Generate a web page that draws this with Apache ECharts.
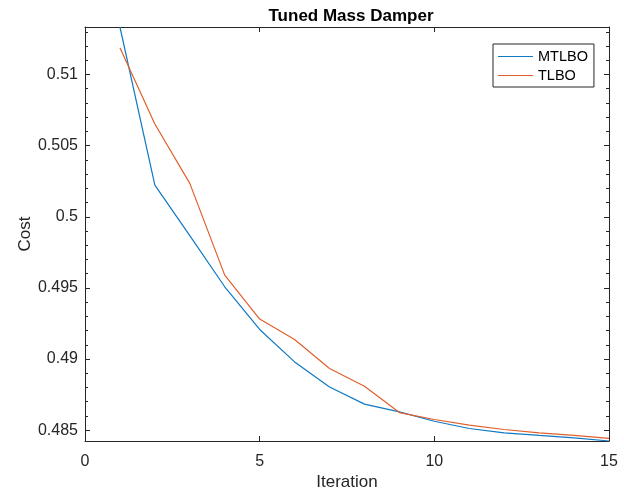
<!DOCTYPE html>
<html>
<head>
<meta charset="utf-8">
<script src="https://cdn.jsdelivr.net/npm/echarts@6/dist/echarts.min.js"></script>
<style>
  html, body { margin: 0; padding: 0; background: #fff; }
  #main { width: 624px; height: 494px; }
</style>
</head>
<body>
<div id="main"></div>
<script>
var iterations = [1, 2, 3, 4, 5, 6, 7, 8, 9, 10, 11, 12, 13, 14, 15];
var mtlbo = [0.51334, 0.50223, 0.49868, 0.49508, 0.49208, 0.48980, 0.48804, 0.48683,
             0.48629, 0.48563, 0.48512, 0.48481, 0.48463, 0.48446, 0.48424];
var tlbo = [0.51188, 0.50652, 0.50235, 0.49590, 0.49281, 0.49138, 0.48934, 0.48809,
            0.48624, 0.48575, 0.48535, 0.48505, 0.48481, 0.48463, 0.48442];
var xTicks = [0, 5, 10, 15];
var yTicks = [0.485, 0.49, 0.495, 0.5, 0.505, 0.51];
// minor ticks every 0.001 (in thousandths)
var yMinorFrom = 485, yMinorTo = 513;

var axisCol = '#262626';
var font = 'Liberation Sans, Arial, sans-serif';
var blue = '#1079C4';
var orange = '#E0602B';

function pairs(ys) {
  return ys.map(function (v, i) { return [iterations[i], v]; });
}

var yMin = Math.min.apply(null, mtlbo.concat(tlbo));
var yMax = Math.max.apply(null, mtlbo.concat(tlbo));

var yMinor = [];
for (var k = yMinorFrom; k <= yMinorTo; k++) {
  if (k % 5 !== 0) yMinor.push(k / 1000);
}

function yAxisDef(grid, right, minor) {
  return {
    type: 'value',
    gridIndex: grid,
    position: right ? 'right' : 'left',
    min: yMin,
    max: yMax,
    axisLine: { show: !minor, onZero: false, lineStyle: { color: axisCol, width: 1 } },
    axisTick: {
      show: true, inside: true, length: minor ? 3 : 5,
      customValues: minor ? yMinor : yTicks,
      lineStyle: { color: axisCol }
    },
    splitLine: { show: false },
    axisLabel: {
      show: !right && !minor,
      customValues: yTicks,
      formatter: function (v) { return String(+v.toFixed(4)); },
      color: axisCol,
      fontFamily: font,
      fontSize: 16,
      margin: 7
    },
    name: (right || minor) ? '' : 'Cost',
    nameLocation: 'middle',
    nameGap: 51,
    nameMoveOverlap: false,
    nameTextStyle: { color: axisCol, fontFamily: font, fontSize: 17 }
  };
}

function xAxisDef(grid, top, hidden) {
  return {
    type: 'value',
    gridIndex: grid,
    show: !hidden,
    position: top ? 'top' : 'bottom',
    min: xTicks[0],
    max: xTicks[xTicks.length - 1],
    axisLine: { show: true, onZero: false, lineStyle: { color: axisCol, width: 1 } },
    axisTick: { show: true, inside: true, length: 5, customValues: xTicks, lineStyle: { color: axisCol } },
    splitLine: { show: false },
    axisLabel: {
      show: !top,
      customValues: xTicks,
      color: axisCol,
      fontFamily: font,
      fontSize: 16,
      margin: 13
    },
    name: (top || hidden) ? '' : 'Iteration',
    nameLocation: 'middle',
    nameGap: 33,
    nameMoveOverlap: false,
    nameTextStyle: { color: axisCol, fontFamily: font, fontSize: 17 }
  };
}

var chart = echarts.init(document.getElementById('main'), null, { renderer: 'canvas' });

var gridBox = { left: 85, right: 15, top: 27, bottom: 53, outerBoundsMode: 'none', containLabel: false };

var option = {
  animation: false,
  backgroundColor: '#ffffff',
  title: {
    text: 'Tuned Mass Damper',
    left: 346,
    top: 3,
    textAlign: 'center',
    textStyle: { color: '#000', fontFamily: font, fontSize: 17, fontWeight: 'bold' }
  },
  grid: [Object.assign({}, gridBox), Object.assign({}, gridBox)],
  legend: {
    orient: 'vertical',
    left: 493,
    top: 44,
    icon: 'rect',
    itemWidth: 35,
    itemHeight: 1,
    itemGap: 4,
    padding: [5, 6, 4, 5],
    borderColor: axisCol,
    borderWidth: 1,
    backgroundColor: '#fff',
    textStyle: { color: '#000', fontFamily: font, fontSize: 14.5 },
    data: ['MTLBO', 'TLBO']
  },
  xAxis: [xAxisDef(0, false, false), xAxisDef(0, true, false), xAxisDef(1, false, true)],
  yAxis: [yAxisDef(0, false, false), yAxisDef(0, true, false), yAxisDef(1, false, true), yAxisDef(1, true, true)],
  series: [
    {
      name: 'MTLBO',
      type: 'line',
      xAxisIndex: 0,
      yAxisIndex: 0,
      data: pairs(mtlbo),
      showSymbol: false,
      color: blue,
      lineStyle: { width: 1.2, color: blue }
    },
    {
      name: 'TLBO',
      type: 'line',
      xAxisIndex: 0,
      yAxisIndex: 0,
      data: pairs(tlbo),
      showSymbol: false,
      color: orange,
      lineStyle: { width: 1.2, color: orange }
    }
  ]
};

chart.setOption(option);
</script>
</body>
</html>
